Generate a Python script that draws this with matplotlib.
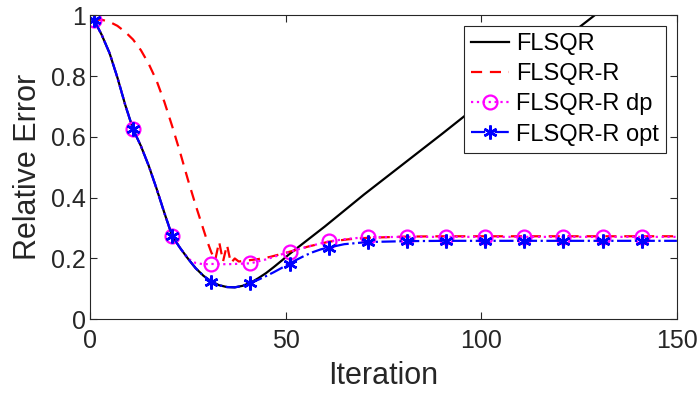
import matplotlib
matplotlib.use("Agg")
import matplotlib.pyplot as plt

# iterations / relative error
it_common = [1, 3, 5, 7, 9, 11, 13, 15, 17, 19, 21, 23, 25]
err_common = [0.985, 0.935, 0.875, 0.795, 0.705, 0.625, 0.57, 0.505, 0.43, 0.35, 0.274, 0.235, 0.20]

it_min = [27, 29, 31, 33, 35, 37, 39, 41]
err_min = [0.168, 0.143, 0.124, 0.112, 0.106, 0.105, 0.110, 0.120]

it_flsqr_tail = [43, 45, 47, 49, 51, 60, 70, 80, 90, 100, 110, 120, 130, 140, 150]
err_flsqr_tail = [0.135, 0.152, 0.172, 0.193, 0.215, 0.305, 0.41, 0.51, 0.61, 0.712, 0.812, 0.91, 1.01, 1.11, 1.21]

it_opt_tail = [43, 45, 47, 49, 51, 53, 55, 57, 59, 61, 65, 71, 81, 91, 101, 111, 121, 131, 141, 150]
err_opt_tail = [0.13, 0.142, 0.155, 0.169, 0.183, 0.197, 0.21, 0.221, 0.23, 0.236, 0.247, 0.254, 0.257, 0.258,
                0.258, 0.258, 0.258, 0.258, 0.258, 0.258]

it_dp_tail = [27, 29, 31, 35, 41, 45, 51, 56, 61, 66, 71, 81, 91, 101, 111, 121, 131, 141, 150]
err_dp_tail = [0.185, 0.181, 0.182, 0.181, 0.184, 0.197, 0.222, 0.24, 0.256, 0.265, 0.27, 0.271, 0.271,
               0.271, 0.271, 0.271, 0.271, 0.271, 0.271]

it_r = [1, 3, 5, 7, 9, 11, 13, 15, 17, 19, 21, 23, 25, 27, 29, 30, 31, 32, 33, 34, 35, 36, 37, 38,
        40, 43, 46, 51, 56, 61, 66, 71, 81, 91, 101, 111, 121, 131, 141, 150]
err_r = [0.985, 0.985, 0.978, 0.965, 0.945, 0.92, 0.885, 0.84, 0.785, 0.715, 0.635, 0.55, 0.46, 0.375,
         0.295, 0.255, 0.22, 0.195, 0.255, 0.19, 0.245, 0.185, 0.2, 0.19, 0.193, 0.198, 0.205, 0.222,
         0.24, 0.255, 0.263, 0.268, 0.272, 0.273, 0.273, 0.273, 0.273, 0.273, 0.273, 0.273]

it_flsqr = it_common + it_min + it_flsqr_tail
err_flsqr = err_common + err_min + err_flsqr_tail
it_opt = it_common + it_min + it_opt_tail
err_opt = err_common + err_min + err_opt_tail
it_dp = it_common + it_dp_tail
err_dp = err_common + err_dp_tail


def marks(its):
    # markers every 10 iterations, starting at 1
    return [i for i, k in enumerate(its) if (k - 1) % 10 == 0]


plt.rcParams['font.family'] = ['Liberation Sans', 'DejaVu Sans']
txt = '#262626'

fig = plt.figure(figsize=(7, 4), dpi=100)
ax = fig.add_axes([0.1286, 0.2018, 0.967 - 0.1286, 0.962 - 0.2018])

ax.plot(it_flsqr, err_flsqr, color='k', lw=1.6, label='FLSQR')
ax.plot(it_r, err_r, color=(1, 0, 0), lw=1.6, dashes=(5, 3.5), label='FLSQR-R')
ax.plot(it_dp, err_dp, color=(1, 0, 1), lw=1.6, ls=':', marker='o', ms=10, mfc='none', mew=1.6,
        markevery=marks(it_dp), label='FLSQR-R dp')
ax.plot(it_opt, err_opt, color=(0, 0, 1), lw=1.6, ls='-.', marker=(6, 2, 0), ms=10, mew=1.8,
        markevery=marks(it_opt), label='FLSQR-R opt')

ax.set_xlim(0, 150)
ax.set_ylim(0, 1)
ax.set_xticks([0, 50, 100, 150])
ax.set_yticks([0, 0.2, 0.4, 0.6, 0.8, 1])
ax.set_yticklabels(['0', '0.2', '0.4', '0.6', '0.8', '1'])
ax.tick_params(direction='in', top=True, right=True, length=5, width=0.8,
               labelsize=18, colors=txt)
ax.tick_params(axis='x', pad=7)
ax.tick_params(axis='y', pad=3)
for s in ax.spines.values():
    s.set_color(txt)
    s.set_linewidth(0.8)

ax.set_xlabel('Iteration', fontsize=22, color=txt, labelpad=6)
ax.set_ylabel('Relative Error', fontsize=22, color=txt, labelpad=6)

leg = ax.legend(loc='upper right', fontsize=17, fancybox=False, framealpha=1,
                handlelength=1.6, handletextpad=0.3, labelspacing=0.35, borderpad=0.3,
                borderaxespad=0.45)
leg.get_frame().set_edgecolor(txt)
leg.get_frame().set_linewidth(0.8)

fig.savefig('out.png', dpi=100)
